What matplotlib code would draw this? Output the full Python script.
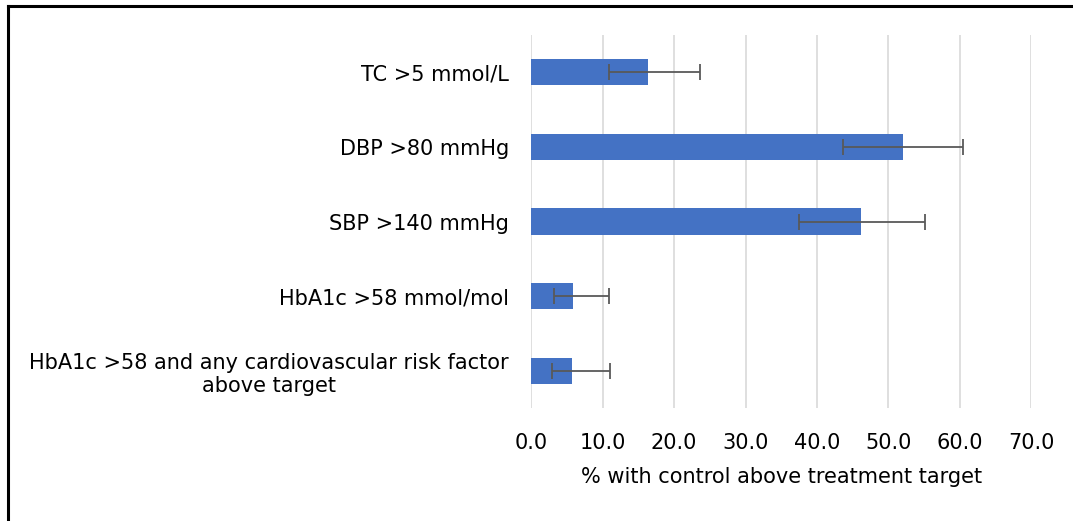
import numpy as np
import matplotlib.pyplot as plt
from matplotlib.lines import Line2D

plt.rcParams.update({'font.family': 'DejaVu Sans', 'font.size': 15})

labels = ["TC >5 mmol/L",
          "DBP >80 mmHg",
          "SBP >140 mmHg",
          "HbA1c >58 mmol/mol",
          "HbA1c >58 and any cardiovascular risk factor\nabove target"]
values = [16.3, 52.0, 46.2, 5.9, 5.8]
ci_low = [10.9, 43.6, 37.5, 3.2, 3.0]
ci_high = [23.6, 60.4, 55.1, 10.9, 11.0]
xticks = [0, 10, 20, 30, 40, 50, 60, 70]

fig = plt.figure(figsize=(10.73, 5.21), dpi=100)
ax = fig.add_axes([0.4949, 0.2169, 0.4664, 0.7159])

y = np.arange(len(labels))
vals = np.array(values)
xerr = [vals - np.array(ci_low), np.array(ci_high) - vals]

ax.barh(y, vals, height=0.35, color='#4472c4', zorder=2)
ax.errorbar(vals, y, xerr=xerr, fmt='none', ecolor='#595959',
            elinewidth=1.3, capsize=6, capthick=1.3, zorder=3)

ax.set_ylim(len(labels) - 0.5, -0.5)
ax.set_xlim(0, 70)
ax.set_xticks(xticks)
ax.set_xticklabels([f"{t:.1f}" for t in xticks])
ax.set_yticks(y)
ax.set_yticklabels(labels, multialignment='center')
ax.tick_params(axis='both', length=0)
ax.tick_params(axis='y', pad=16)
ax.tick_params(axis='x', pad=18)
ax.grid(axis='x', color='#d9d9d9', linewidth=1.2, zorder=0)
ax.set_axisbelow(True)
for s in ax.spines.values():
    s.set_visible(False)
ax.set_xlabel("% with control above treatment target", labelpad=10)

# frame around the figure (top and left edges)
lx, ty = 8 / 1073, 1 - 6 / 521
fig.add_artist(Line2D([lx, lx], [0, ty], color='black', lw=2.2, transform=fig.transFigure))
fig.add_artist(Line2D([lx, 1], [ty, ty], color='black', lw=2.2, transform=fig.transFigure))

fig.savefig("out.png", dpi=100)
